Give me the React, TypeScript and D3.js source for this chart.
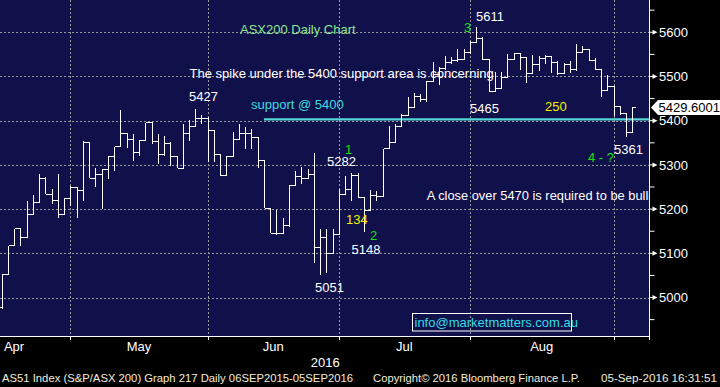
import React from "react";
import * as d3 from "d3";

// ---- data ----
const opens = [4978,5053,5117,5156,5136,5187,5214,5270,5234,5219,5187,5223,5249,5241,5351,5270,5278,5289,5320,5341,5370,5358,5328,5356,5395,5353,5323,5349,5318,5293,5370,5386,5404,5406,5377,5323,5275,5318,5358,5370,5370,5362,5311,5202,5145,5145,5162,5254,5273,5270,5279,5113,5136,5100,5142,5232,5245,5275,5226,5196,5230,5228,5336,5351,5388,5411,5430,5455,5448,5489,5504,5517,5532,5536,5538,5555,5577,5585,5538,5466,5472,5497,5538,5551,5544,5506,5528,5540,5545,5532,5506,5526,5515,5555,5560,5537,5515,5468,5477,5432,5417,5374];
const highs = [5053,5117,5156,5156,5219,5232,5279,5272,5245,5279,5225,5253,5249,5355,5351,5294,5290,5321,5341,5424,5370,5370,5356,5395,5395,5370,5366,5351,5321,5392,5402,5427,5414,5408,5377,5324,5321,5374,5392,5385,5381,5362,5311,5202,5198,5181,5255,5287,5296,5291,5326,5155,5155,5155,5245,5275,5282,5281,5226,5243,5241,5336,5389,5392,5415,5453,5463,5461,5489,5532,5521,5547,5544,5562,5562,5581,5611,5589,5538,5510,5510,5550,5553,5551,5544,5549,5547,5549,5545,5536,5530,5536,5574,5568,5560,5542,5515,5504,5477,5432,5417,5430];
const lows = [4974,5053,5117,5117,5136,5187,5214,5234,5211,5180,5187,5208,5181,5219,5270,5249,5200,5268,5287,5341,5338,5308,5321,5356,5347,5303,5321,5298,5293,5293,5353,5386,5392,5306,5306,5275,5275,5318,5358,5336,5336,5294,5202,5145,5142,5143,5160,5253,5257,5270,5079,5051,5055,5100,5142,5232,5219,5226,5148,5196,5219,5228,5336,5351,5388,5411,5430,5442,5442,5487,5480,5514,5529,5532,5538,5551,5577,5538,5466,5466,5472,5497,5538,5514,5485,5506,5512,5528,5507,5504,5506,5509,5513,5555,5536,5515,5454,5468,5411,5414,5362,5374];
const closes = [5053,5117,5156,5136,5187,5214,5270,5234,5219,5187,5223,5249,5241,5351,5270,5278,5289,5320,5341,5370,5358,5328,5356,5395,5353,5323,5349,5318,5293,5370,5386,5404,5406,5377,5323,5275,5318,5358,5370,5370,5362,5311,5202,5145,5145,5162,5254,5273,5270,5279,5113,5136,5100,5142,5232,5245,5275,5226,5196,5230,5228,5336,5351,5388,5411,5430,5455,5448,5489,5504,5517,5532,5536,5538,5555,5577,5585,5538,5466,5472,5497,5538,5551,5544,5506,5528,5540,5545,5532,5506,5526,5515,5555,5560,5537,5515,5468,5477,5432,5417,5374,5429.6001];

const monthLabels = ["Apr", "May", "Jun", "Jul", "Aug"];
const monthEndIndex = [11, 33, 54, 75, 98]; // last trading day of each month
const yearLabel = "2016";
const majorTicks = [5000, 5100, 5200, 5300, 5400, 5500, 5600];
const minorTicks = [4950, 5050, 5150, 5250, 5350, 5450, 5550, 5650];
const supportLevel = 5403;
const supportStartIndex = 42;
const lastPriceLabel = "5429.6001";

const footerLeft = "AS51 Index (S&P/ASX 200) Graph 217  Daily 06SEP2015-05SEP2016";
const footerMid = "Copyright\u00A9 2016 Bloomberg Finance L.P.";
const footerRight = "05-Sep-2016 16:31:51";

const notes: { text: string; color: string; x: number; y: number; size?: number }[] = [
  { text: "ASX200 Daily Chart", color: "title", x: 240, y: 34 },
  { text: "The spike under the 5400 support area is concerning", color: "white", x: 189.5, y: 78 },
  { text: "5427", color: "white", x: 189, y: 101 },
  { text: "support @ 5400", color: "cyan", x: 251, y: 109 },
  { text: "1", color: "green", x: 345, y: 154 },
  { text: "5282", color: "white", x: 327, y: 166 },
  { text: "134", color: "yellow", x: 346, y: 224 },
  { text: "2", color: "green", x: 370, y: 240 },
  { text: "5148", color: "white", x: 351.5, y: 254 },
  { text: "5051", color: "white", x: 315, y: 292 },
  { text: "3", color: "green", x: 464, y: 32 },
  { text: "5611", color: "white", x: 476, y: 21 },
  { text: "5465", color: "white", x: 470, y: 113 },
  { text: "250", color: "yellow", x: 545, y: 111 },
  { text: "5361", color: "white", x: 614, y: 154 },
  { text: "4 - ?", color: "green", x: 588, y: 162 },
  { text: "A close over 5470 is required to be bullish", color: "white", x: 426.7, y: 200, size: 12.86 },
];

const COLORS: Record<string, string> = {
  white: "#ffffff",
  title: "#8fe68f",
  cyan: "#3ddbe3",
  green: "#16e016",
  yellow: "#f2f200",
};

const W = 720;
const H = 387;
const PLOT_R = 649.5;
const PLOT_B = 336;
const FONT = "'Liberation Sans', Arial, sans-serif";

export default function App() {
  const n = closes.length;
  const x = d3.scaleLinear().domain([0, n - 1]).range([1.7, 632.3]);
  const y = d3.scaleLinear().domain([4913, 5673]).range([PLOT_B, 0]);
  const tick = 3.1;

  const lastY = y(closes[n - 1]);

  const monthLabelX = monthLabels.map((_, k) => {
    const prev = k === 0 ? monthEndIndex[0] - 20 : monthEndIndex[k - 1];
    return Math.max(14, (x(prev) + x(monthEndIndex[k])) / 2);
  });

  return (
    <svg
      width={W}
      height={H}
      style={{ position: "fixed", left: 0, top: 0, display: "block" }}
      fontFamily={FONT}
    >
      <defs>
        <clipPath id="plotClip">
          <rect x={0} y={0} width={PLOT_R} height={PLOT_B} />
        </clipPath>
      </defs>
      <rect x={0} y={0} width={W} height={H} fill="#000" />
      <rect x={0} y={0} width={PLOT_R} height={PLOT_B} fill="#10104a" />

      {/* grid */}
      <g stroke="#9a9a9a" strokeWidth={1} strokeDasharray="2,2" shapeRendering="crispEdges">
        {majorTicks.map((t) => (
          <line key={"h" + t} x1={0} x2={PLOT_R} y1={Math.round(y(t)) + 0.5} y2={Math.round(y(t)) + 0.5} />
        ))}
        {monthEndIndex.map((m) => (
          <line key={"v" + m} x1={Math.round(x(m)) + 0.5} x2={Math.round(x(m)) + 0.5} y1={0} y2={PLOT_B} />
        ))}
      </g>

      {/* support line */}
      <line
        x1={x(supportStartIndex)}
        x2={PLOT_R}
        y1={y(supportLevel)}
        y2={y(supportLevel)}
        stroke="#55d6d8"
        strokeWidth={2.3}
      />

      {/* OHLC bars */}
      <g stroke="#fff" strokeWidth={1} shapeRendering="crispEdges" clipPath="url(#plotClip)">
        {closes.map((c, i) => {
          const cx = Math.round(x(i)) + 0.5;
          return (
            <g key={i}>
              <line x1={cx} x2={cx} y1={y(highs[i])} y2={y(lows[i])} />
              <line x1={cx - tick} x2={cx} y1={y(opens[i])} y2={y(opens[i])} />
              <line x1={cx} x2={cx + tick} y1={y(c)} y2={y(c)} />
            </g>
          );
        })}
      </g>

      {/* annotations */}
      <g clipPath="url(#plotClip)" fontSize={13}>
        {notes.map((nt, k) => (
          <text key={k} x={nt.x} y={nt.y} fill={COLORS[nt.color]} fontSize={nt.size ?? 13}>
            {nt.text}
          </text>
        ))}
      </g>

      {/* email box */}
      <rect x={412.5} y={313.5} width={159} height={17.5} fill="none" stroke="#fff" strokeWidth={1} />
      <text x={414.5} y={327} fontSize={13} fill="#33dde6">
        info@marketmatters.com.au
      </text>

      {/* axes */}
      <line x1={PLOT_R} x2={PLOT_R} y1={0} y2={PLOT_B + 4} stroke="#fff" strokeWidth={1} />
      <line x1={0} x2={PLOT_R} y1={PLOT_B + 0.5} y2={PLOT_B + 0.5} stroke="#fff" strokeWidth={1} />
      {monthEndIndex.map((m) => (
        <line
          key={"bt" + m}
          x1={Math.round(x(m)) + 0.5}
          x2={Math.round(x(m)) + 0.5}
          y1={PLOT_B}
          y2={PLOT_B + 4}
          stroke="#fff"
          strokeWidth={1}
        />
      ))}
      {minorTicks.map((t) => (
        <line key={"mt" + t} x1={PLOT_R} x2={PLOT_R + 5} y1={y(t)} y2={y(t)} stroke="#fff" strokeWidth={1} />
      ))}
      {majorTicks.map((t) => (
        <g key={"MT" + t}>
          <line x1={PLOT_R} x2={PLOT_R + 4} y1={y(t)} y2={y(t)} stroke="#fff" strokeWidth={1} />
          <path
            d={`M${PLOT_R + 3},${y(t) - 2.5} L${PLOT_R + 8},${y(t)} L${PLOT_R + 3},${y(t) + 2.5} Z`}
            fill="#fff"
          />
          <text x={659} y={y(t) + 4.8} fontSize={13} fill="#fff">
            {t}
          </text>
        </g>
      ))}

      {/* last price marker */}
      <path
        d={`M${651},${lastY} L${658},${lastY - 7.5} L${W},${lastY - 7.5} L${W},${lastY + 7.5} L${658},${lastY + 7.5} Z`}
        fill="#fff"
      />
      <text x={658.5} y={lastY + 4.8} fontSize={13} fill="#000">
        {lastPriceLabel}
      </text>

      {/* month labels */}
      {monthLabels.map((m, k) => (
        <text key={m} x={monthLabelX[k]} y={351} fontSize={13} fill="#fff" textAnchor="middle">
          {m}
        </text>
      ))}
      <text x={(x(monthEndIndex[1]) + x(monthEndIndex[2])) / 2 + 52} y={366.5} fontSize={13} fill="#fff" textAnchor="middle">
        {yearLabel}
      </text>

      {/* footer */}
      <g fontSize={11.5} fill="#f2ecd9">
        <text x={2} y={382} textLength={351} lengthAdjust="spacingAndGlyphs">
          {footerLeft}
        </text>
        <text x={373} y={382} textLength={207} lengthAdjust="spacingAndGlyphs">
          {footerMid}
        </text>
        <text x={601} y={382} textLength={116} lengthAdjust="spacingAndGlyphs">
          {footerRight}
        </text>
      </g>
    </svg>
  );
}
